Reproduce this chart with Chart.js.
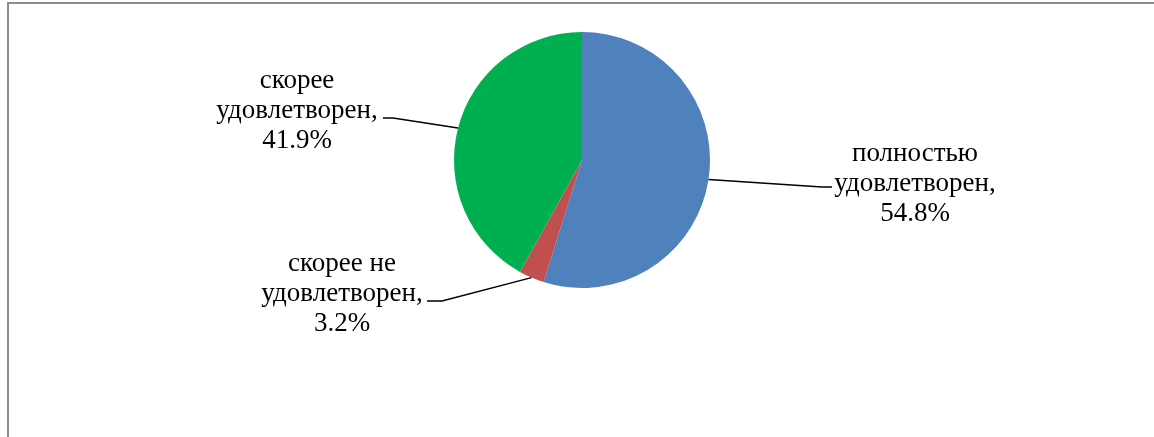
<!DOCTYPE html>
<html>
<head>
<meta charset="utf-8">
<script src="https://cdn.jsdelivr.net/npm/chart.js@4.4.0/dist/chart.umd.min.js"></script>
<style>
  html, body { margin: 0; padding: 0; background: #fff; overflow: hidden; }
  #frame {
    position: absolute; left: 7px; top: 2px; width: 1200px; height: 460px;
    border: 2px solid #8c8c8c; box-sizing: border-box;
  }
  #wrap { position: absolute; left: 0; top: 0; width: 1154px; height: 437px; }
</style>
</head>
<body>
<div id="frame"></div>
<div id="wrap"><canvas id="chart-pie" width="1154" height="437"></canvas></div>
<script>
// ── Data ──
const categories = ["полностью удовлетворен", "скорее не удовлетворен", "скорее удовлетворен"];
const shares = [54.8, 3.2, 41.9];
const labelLines = [
  ["полностью", "удовлетворен,", "54.8%"],
  ["скорее не", "удовлетворен,", "3.2%"],
  ["скорее", "удовлетворен,", "41.9%"]
];
const sliceColors = ["#4F81BD", "#C0504D", "#00B050"];

// label placement (text centre, first baseline, leader elbow and tail)
const labelLayout = [
  { tx: 915, ty: 161, ex: 822, ey: 187, endX: 832 },
  { tx: 342, ty: 271, ex: 442, ey: 301, endX: 427 },
  { tx: 297, ty: 88,  ex: 393, ey: 118, endX: 383 }
];

const leaderLabels = {
  id: "leaderLabels",
  afterDatasetsDraw(chart) {
    const ctx = chart.ctx;
    const arcs = chart.getDatasetMeta(0).data;
    ctx.save();
    arcs.forEach((arc, i) => {
      const p = arc.getProps(["x", "y", "startAngle", "endAngle", "outerRadius"], true);
      const mid = (p.startAngle + p.endAngle) / 2;
      const sx = p.x + Math.cos(mid) * p.outerRadius;
      const sy = p.y + Math.sin(mid) * p.outerRadius;
      const L = labelLayout[i];
      ctx.strokeStyle = "#000";
      ctx.lineWidth = 1.5;
      ctx.beginPath();
      ctx.moveTo(sx, sy);
      ctx.lineTo(L.ex, L.ey);
      ctx.lineTo(L.endX, L.ey);
      ctx.stroke();

      ctx.fillStyle = "#000";
      ctx.font = "27px 'Liberation Serif', 'Times New Roman', serif";
      ctx.textAlign = "center";
      ctx.textBaseline = "alphabetic";
      labelLines[i].forEach((t, k) => ctx.fillText(t, L.tx, L.ty + k * 30));
    });
    ctx.restore();
  }
};

new Chart(document.getElementById("chart-pie").getContext("2d"), {
  type: "pie",
  data: {
    labels: categories,
    datasets: [{
      data: shares,
      backgroundColor: sliceColors,
      borderWidth: 0
    }]
  },
  options: {
    responsive: false,
    animation: false,
    layout: { padding: { left: 10, right: 0, top: 32, bottom: 149 } },
    plugins: { legend: { display: false }, tooltip: { enabled: false } }
  },
  plugins: [leaderLabels]
});
</script>
</body>
</html>
